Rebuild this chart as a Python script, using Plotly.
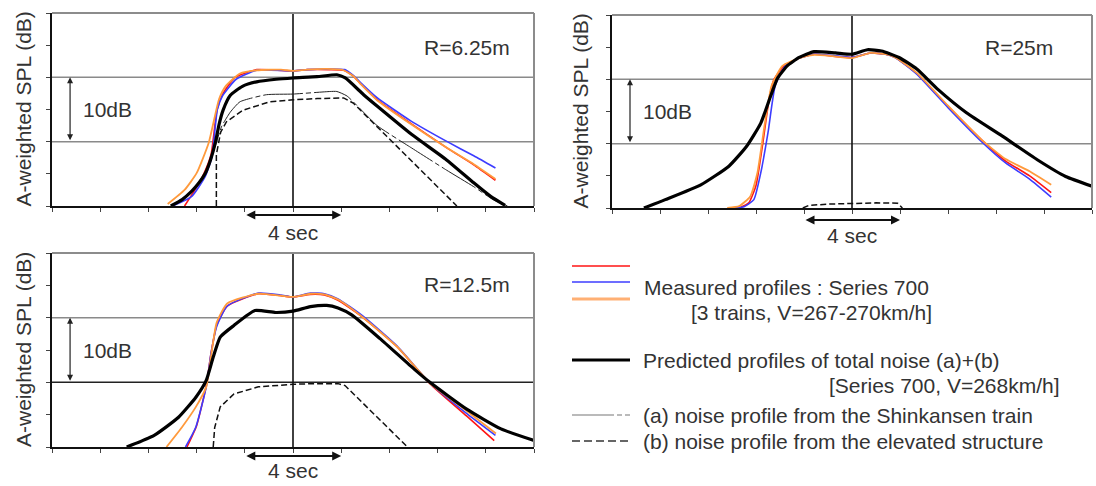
import plotly.graph_objects as go

W, H = 1096, 486

# ---------------- data (time in s, relative A-weighted SPL in dB) ----------------
# Panel R=6.25m
t1_red = [-4.5, -4.07, -3.7, -3.4, -3.15, -2.9, -2.4, -1.5, 0, 0.6, 1.5, 2.1, 2.5, 2.8, 3.5, 4.9, 6.4, 7.5, 8.4]
y1_red = [0, 2.5, 5.0, 8.0, 15.0, 17.5, 20.0, 21.2, 21.0, 21.2, 21.2, 21.1, 20.2, 19.0, 16.5, 12.8, 9.0, 6.4, 4.0]
t1_blue = [-5.0, -4.2, -3.64, -3.36, -3.14, -2.93, -2.36, -1.5, 0, 0.6, 1.5, 2.15, 2.5, 2.8, 3.5, 4.9, 6.4, 7.5, 8.4]
y1_blue = [0, 1.5, 4.6, 7.7, 15.0, 17.1, 19.7, 21.1, 21.0, 21.2, 21.3, 21.2, 20.3, 19.2, 16.8, 13.2, 10.0, 7.8, 5.9]
t1_orange = [-5.2, -4.5, -4.0, -3.5, -3.07, -2.8, -2.2, -1.5, -0.5, 0, 0.6, 1.4, 2.1, 2.5, 2.8, 3.5, 4.9, 6.4, 7.5, 8.4]
y1_orange = [0.3, 2.5, 5.1, 9.8, 16.6, 18.6, 20.6, 21.1, 21.2, 21.0, 21.2, 21.3, 21.1, 20.2, 19.0, 16.4, 12.7, 9.0, 6.5, 4.2]
t1_total = [-5.07, -4.6, -4.2, -3.9, -3.65, -3.42, -3.22, -3.06, -2.9, -2.6, -2.1, -1.51, -0.7, 0, 1.0, 1.82, 2.17, 2.93, 3.5, 4.93, 6.36, 7.5, 8.2, 8.8]
y1_total = [0, 1.0, 2.3, 3.6, 5.0, 7.2, 9.9, 12.8, 14.9, 17.2, 18.6, 19.3, 19.7, 19.9, 20.1, 20.4, 19.9, 17.3, 15.5, 11.1, 7.2, 3.6, 1.5, 0.1]
t1_a = [-5.07, -4.6, -4.2, -3.9, -3.65, -3.42, -3.2, -2.97, -2.6, -2.2, -1.1, 0, 1.54, 1.82, 2.24, 3.49, 4.93, 6.36, 7.5, 8.3, 8.9]
y1_a = [0, 1.0, 2.3, 3.6, 5.0, 7.2, 9.6, 12.3, 14.6, 16.2, 17.3, 17.4, 17.8, 17.8, 17.1, 12.5, 9.0, 5.6, 3.0, 1.0, 0]
t1_b = [-3.18, -3.18, -3.0, -2.76, -2.07, -0.96, 0, 1.0, 2.1, 2.5, 3.9, 6.8]
y1_b = [0, 8.0, 11.5, 13.1, 14.9, 16.2, 16.5, 16.7, 16.8, 16.0, 10.8, 0]

# Panel R=25m
t2_red = [-4.7, -4.3, -4.0, -3.72, -3.45, -3.25, -2.85, -2.2, -1.58, -0.8, 0, 0.78, 1.4, 1.8, 2.7, 4.0, 5.4, 6.4, 7.4, 8.3]
y2_red = [0, 0.8, 3.5, 10.0, 17.0, 20.0, 22.0, 23.3, 23.9, 23.6, 23.4, 24.1, 23.9, 23.4, 20.9, 15.8, 10.6, 7.3, 5.0, 2.4]
t2_blue = [-5.0, -4.5, -4.09, -3.8, -3.5, -3.2, -2.8, -2.2, -1.58, -0.8, 0, 0.78, 1.4, 1.8, 2.7, 4.0, 5.4, 6.4, 7.4, 8.3]
y2_blue = [0, 0.2, 1.3, 5.5, 11.7, 19.0, 22.0, 23.3, 23.9, 23.7, 23.4, 24.1, 23.9, 23.4, 20.8, 15.6, 10.3, 7.0, 4.5, 1.7]
t2_orange = [-5.2, -4.7, -4.24, -3.94, -3.65, -3.35, -2.9, -2.2, -1.58, -0.8, 0, 0.78, 1.4, 1.8, 2.7, 4.0, 5.4, 6.4, 7.4, 8.3]
y2_orange = [0, 0.3, 1.8, 5.5, 12.7, 19.0, 22.1, 23.3, 23.8, 23.6, 23.3, 24.1, 23.9, 23.4, 21.0, 15.9, 10.6, 7.6, 5.7, 3.6]
t2_total = [-8.67, -7.78, -6.3, -5.13, -4.39, -3.8, -3.4, -3.1, -2.7, -2.2, -1.58, -0.69, 0, 0.64, 1.23, 1.96, 2.7, 3.59, 4.77, 6.25, 7.72, 8.9, 10.0]
y2_total = [0, 1.3, 3.6, 6.5, 9.6, 13.2, 17.3, 20.2, 22.1, 23.4, 24.3, 24.1, 23.9, 24.6, 24.4, 23.4, 21.6, 18.4, 14.8, 11.2, 7.5, 4.9, 3.4]
t2_b = [-2.05, -1.8, -1.0, 0, 1.0, 1.9, 2.1]
y2_b = [0, 0.4, 0.6, 0.75, 0.8, 0.75, 0]

# Panel R=12.5m
t3_red = [-4.4, -4.0, -3.6, -3.4, -3.17, -2.73, -1.44, -0.5, 0, 0.72, 1.3, 1.87, 2.88, 4.32, 5.68, 7.2, 8.35]
y3_red = [0, 3.3, 9.5, 14.5, 18.8, 21.8, 23.7, 23.4, 23.2, 23.6, 23.5, 22.7, 20.1, 15.5, 9.8, 4.8, 1.0]
t3_blue = [-4.46, -4.03, -3.6, -3.4, -3.17, -2.73, -1.44, -0.5, 0, 0.72, 1.3, 1.87, 2.88, 4.32, 5.68, 7.2, 8.4]
y3_blue = [0, 3.1, 9.3, 14.5, 18.6, 21.8, 23.8, 23.5, 23.2, 23.8, 23.7, 22.9, 20.3, 15.6, 9.9, 5.2, 1.8]
t3_orange = [-5.25, -4.6, -4.03, -3.6, -3.4, -3.17, -2.73, -1.44, -0.5, 0, 0.72, 1.3, 1.87, 2.88, 4.32, 5.68, 7.2, 8.42]
y3_orange = [0, 3.1, 6.2, 9.3, 14.0, 19.2, 22.2, 23.7, 23.4, 23.2, 23.7, 23.6, 22.8, 20.1, 15.5, 9.9, 5.6, 2.1]
t3_total = [-6.9, -5.76, -4.75, -4.03, -3.6, -3.31, -3.02, -2.45, -1.58, -0.72, 0, 0.72, 1.4, 1.87, 2.45, 3.6, 5.04, 5.68, 7.19, 8.63, 10.0]
y3_total = [0, 1.8, 4.6, 7.7, 10.3, 13.9, 17.0, 18.8, 21.1, 20.8, 21.0, 21.7, 21.9, 21.5, 20.4, 16.8, 12.0, 10.0, 5.9, 2.8, 1.0]
t3_b = [-3.31, -3.25, -3.02, -2.45, -1.44, -0.5, 0, 1.0, 1.87, 2.16, 4.75]
y3_b = [0, 3.0, 6.2, 8.2, 9.3, 9.6, 9.7, 9.8, 9.8, 9.5, 0]

panel_labels = ["R=6.25m", "R=25m", "R=12.5m"]
y_title = "A-weighted SPL (dB)"
x_range = [-10, 10]
y_range = [0, 30]
grid_levels = [10, 20]

legend_texts = [
    "Measured profiles : Series 700",
    "[3 trains, V=267-270km/h]",
    "Predicted profiles of total noise (a)+(b)",
    "[Series 700, V=268km/h]",
    "(a) noise profile from the Shinkansen train",
    "(b) noise profile from the elevated structure",
]

# ---------------- styling ----------------
RED = "#FF1414"
BLUE = "#3C3CFF"
ORANGE = "#FF9A3C"
TXT = "#333333"
FONT = "Liberation Sans, Arial, sans-serif"
FS = 21

# pixel boxes of the three plot areas: (left, right, top, bottom)
boxes = [(52, 534, 13, 206), (612, 1092, 15, 208), (52, 534, 253, 447)]

fig = go.Figure()


def add_line(i, t, y, color, width, dash="solid", spline=True):
    sfx = "" if i == 0 else str(i + 1)
    fig.add_trace(go.Scatter(
        x=t, y=y, mode="lines", xaxis="x" + sfx, yaxis="y" + sfx,
        line=dict(color=color, width=width, dash=dash,
                  shape="spline" if spline else "linear", smoothing=0.5),
        showlegend=False, hoverinfo="skip"))


A_DASH = "40px,3px,5px,3px"
# panel 1
add_line(0, t1_b, y1_b, "#111111", 1.5, "6px,3px", spline=False)
add_line(0, t1_a, y1_a, "#222222", 1.0, A_DASH)
add_line(0, t1_red, y1_red, RED, 1.6)
add_line(0, t1_blue, y1_blue, BLUE, 1.6)
add_line(0, t1_orange, y1_orange, ORANGE, 1.8)
add_line(0, t1_total, y1_total, "#000000", 3.2)
# panel 2
add_line(1, t2_b, y2_b, "#111111", 1.5, "6px,3px", spline=False)
add_line(1, t2_red, y2_red, RED, 1.6)
add_line(1, t2_blue, y2_blue, BLUE, 1.6)
add_line(1, t2_orange, y2_orange, ORANGE, 1.8)
add_line(1, t2_total, y2_total, "#000000", 3.2)
# panel 3
add_line(2, t3_b, y3_b, "#111111", 1.5, "6px,3px", spline=False)
add_line(2, t3_red, y3_red, RED, 1.6)
add_line(2, t3_blue, y3_blue, BLUE, 1.6)
add_line(2, t3_orange, y3_orange, ORANGE, 1.8)
add_line(2, t3_total, y3_total, "#000000", 3.2)

layout = dict(width=W, height=H, margin=dict(l=0, r=0, t=0, b=0),
              paper_bgcolor="white", plot_bgcolor="white", showlegend=False,
              font=dict(family=FONT, size=FS, color=TXT))
shapes = []
annotations = []

label_pos = [(9.1, 24.7), (8.45, 24.9), (9.1, 25.2)]
# pixel y of the "4 sec" arrow and its text
arrow_py = [(215, 232), (220, 235), (456, 470)]
grid_cols = [("#8a8a8a", "#8a8a8a"), ("#8a8a8a", "#8a8a8a"), ("#222222", "#8a8a8a")]

for i, (l, r, tp, bt) in enumerate(boxes):
    sfx = "" if i == 0 else str(i + 1)
    xd = [l / W, r / W]
    yd = [1 - bt / H, 1 - tp / H]
    layout["xaxis" + sfx] = dict(domain=xd, range=x_range, anchor="y" + sfx,
                                 tick0=-10, dtick=2, ticks="outside", ticklen=4,
                                 tickcolor="#444", showticklabels=False,
                                 showgrid=False, zeroline=False, showline=True,
                                 linecolor="#111", linewidth=2, fixedrange=True)
    layout["yaxis" + sfx] = dict(domain=yd, range=y_range, anchor="x" + sfx,
                                 tick0=0, dtick=5, ticks="outside", ticklen=4,
                                 tickcolor="#444", showticklabels=False,
                                 showgrid=False, zeroline=False, showline=True,
                                 linecolor="#111", linewidth=2, fixedrange=True)
    xr, yr = "x" + sfx, "y" + sfx
    # frame top/right
    shapes.append(dict(type="line", xref=xr + " domain", yref=yr + " domain",
                       x0=0, x1=1, y0=1, y1=1, line=dict(color="#8c8c8c", width=2)))
    shapes.append(dict(type="line", xref=xr + " domain", yref=yr + " domain",
                       x0=1, x1=1, y0=0, y1=1, line=dict(color="#8c8c8c", width=2)))
    # horizontal grid lines
    for lev, col in zip(grid_levels, grid_cols[i]):
        shapes.append(dict(type="line", xref=xr + " domain", yref=yr,
                           x0=0, x1=1, y0=lev, y1=lev, layer="below",
                           line=dict(color=col, width=1.5)))
    # centre line
    shapes.append(dict(type="line", xref=xr, yref=yr + " domain",
                       x0=0, x1=0, y0=0, y1=1, layer="below",
                       line=dict(color="#111111", width=1.6)))
    # 10dB double arrow
    annotations.append(dict(xref=xr, yref=yr, axref=xr, ayref=yr,
                            x=-9.25, y=20, ax=-9.25, ay=10, text="",
                            showarrow=True, arrowhead=2, arrowsize=1.0,
                            arrowwidth=1.2, arrowcolor="#222",
                            arrowside="end+start"))
    annotations.append(dict(xref=xr, yref=yr, x=-8.8, y=15, text="10dB",
                            showarrow=False, xanchor="left", yanchor="middle",
                            font=dict(size=FS, color=TXT)))
    # 4 sec arrow (below the axis, positioned in paper units)
    apy, tpy = arrow_py[i]
    annotations.append(dict(xref=xr, yref="paper", axref=xr, ayref="pixel",
                            x=2, y=1 - apy / H, ax=-2, ay=0, text="",
                            showarrow=True, arrowhead=2, arrowsize=1.0,
                            arrowwidth=1.8, arrowcolor="#111",
                            arrowside="end+start"))
    annotations.append(dict(xref=xr, yref="paper", x=0, y=1 - tpy / H,
                            text="4 sec", showarrow=False, xanchor="center",
                            yanchor="middle", font=dict(size=FS, color=TXT)))
    # R label
    lx, ly = label_pos[i]
    annotations.append(dict(xref=xr, yref=yr, x=lx, y=ly, text=panel_labels[i],
                            showarrow=False, xanchor="right", yanchor="middle",
                            font=dict(size=FS, color=TXT)))
    # y title
    tx = 23 if i != 1 else 580
    annotations.append(dict(xref="paper", yref="paper", x=tx / W,
                            y=1 - (tp + bt) / 2 / H, text=y_title, textangle=-90,
                            showarrow=False, xanchor="center", yanchor="middle",
                            font=dict(size=FS, color=TXT)))

# ---------------- legend (drawn in paper pixels) ----------------
def px(xp):
    return xp / W


def py(yp):
    return 1 - yp / H


leg_lines = [
    (266, RED, 1.6, "solid"),
    (282, BLUE, 1.6, "solid"),
    (299, "#FFB074", 3.2, "solid"),
    (360, "#000000", 3.0, "solid"),
    (415, "#777777", 1.2, "42px,3px,5px,3px"),
    (441, "#666666", 2.2, "8px,4px"),
]
for yy, col, wd, ds in leg_lines:
    shapes.append(dict(type="line", xref="paper", yref="paper",
                       x0=px(572), x1=px(630), y0=py(yy), y1=py(yy),
                       line=dict(color=col, width=wd, dash=ds)))

leg_text_pos = [
    (642, 287, "left"),
    (934, 312, "right"),
    (641, 360, "left"),
    (1062, 385, "right"),
    (641, 415, "left"),
    (641, 441, "left"),
]
for (xx, yy, anc), txt in zip(leg_text_pos, legend_texts):
    annotations.append(dict(xref="paper", yref="paper", x=px(xx), y=py(yy),
                            text=txt, showarrow=False, xanchor=anc,
                            yanchor="middle", font=dict(size=FS, color=TXT)))

layout["shapes"] = shapes
layout["annotations"] = annotations
fig.update_layout(**layout)
fig.write_html("out.html",
               config={"displayModeBar": False, "staticPlot": True},
               post_script="document.body.style.margin='0px';"
                           "document.body.style.overflow='hidden';")
